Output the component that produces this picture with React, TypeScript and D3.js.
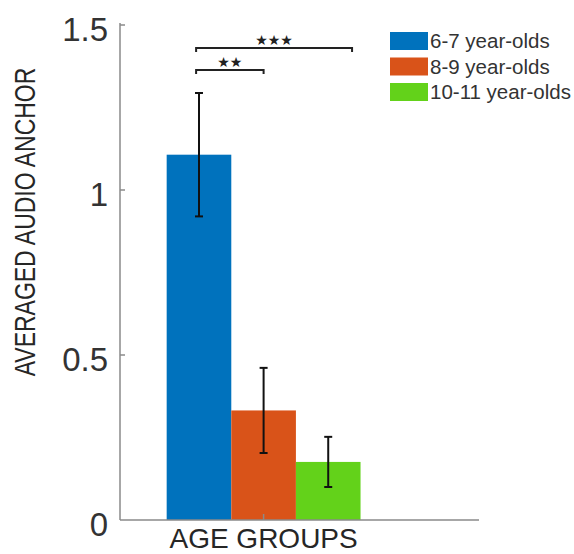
import React, { useEffect, useRef } from "react";
import * as d3 from "d3";

const groups = ["6-7 year-olds", "8-9 year-olds", "10-11 year-olds"];
const means = [1.107, 0.332, 0.176];
const errors = [0.187, 0.129, 0.076];
const colors = ["#0072BD", "#D95319", "#63D21A"];
const yTicks = [0, 0.5, 1, 1.5];
const yTickLabels = ["0", "0.5", "1", "1.5"];
// significance brackets: [from, to] in x-axis units, height in y units
const brackets = [
  { x1: 0.765, x2: 1.0, y: 1.364, label: "★★" },
  { x1: 0.765, x2: 1.308, y: 1.43, label: "★★★" },
];

function App() {
  const ref = useRef<SVGSVGElement>(null);

  useEffect(() => {
    const svg = d3.select(ref.current);
    svg.selectAll("*").remove();

    const x = d3.scaleLinear().domain([0.5, 1.75]).range([120, 479]);
    const y = d3.scaleLinear().domain([0, 1.5]).range([520, 25]);
    const groupWidth = 0.675;
    const xb = d3
      .scaleBand()
      .domain(groups)
      .range([x(1 - groupWidth / 2), x(1 + groupWidth / 2)]);

    const axisColor = "#8a8a8a";
    const textColor = "#262626";

    // bars
    svg
      .append("g")
      .selectAll("rect")
      .data(groups)
      .enter()
      .append("rect")
      .attr("x", (d) => xb(d)!)
      .attr("y", (d, i) => y(means[i]))
      .attr("width", xb.bandwidth())
      .attr("height", (d, i) => y(0) - y(means[i]))
      .attr("fill", (d, i) => colors[i]);

    // axes
    svg
      .append("line")
      .attr("x1", x(0.5))
      .attr("x2", x(0.5))
      .attr("y1", y(1.5) - 2)
      .attr("y2", y(0))
      .attr("stroke", axisColor)
      .attr("stroke-width", 1.5);
    svg
      .append("line")
      .attr("x1", x(0.5))
      .attr("x2", x(1.75))
      .attr("y1", y(0))
      .attr("y2", y(0))
      .attr("stroke", axisColor)
      .attr("stroke-width", 1.5);

    svg
      .append("g")
      .selectAll("line")
      .data(yTicks.filter((t) => t > 0))
      .enter()
      .append("line")
      .attr("x1", x(0.5))
      .attr("x2", x(0.5) + 5)
      .attr("y1", (d) => y(d))
      .attr("y2", (d) => y(d))
      .attr("stroke", axisColor)
      .attr("stroke-width", 1.5);
    svg
      .append("line")
      .attr("x1", x(1))
      .attr("x2", x(1))
      .attr("y1", y(0))
      .attr("y2", y(0) - 6)
      .attr("stroke", axisColor)
      .attr("stroke-width", 1.5);

    svg
      .append("g")
      .selectAll("text")
      .data(yTicks)
      .enter()
      .append("text")
      .attr("x", 108)
      .attr("y", (d) => y(d) + 16)
      .attr("text-anchor", "end")
      .attr("font-family", "Liberation Sans, Arial, sans-serif")
      .attr("font-size", 33)
      .attr("fill", "#333")
      .text((d, i) => yTickLabels[i]);

    // error bars
    const eb = svg.append("g").attr("stroke", "#111").attr("stroke-width", 2);
    groups.forEach((g, i) => {
      const cx = xb(g)! + xb.bandwidth() / 2;
      const top = y(means[i] + errors[i]);
      const bot = y(means[i] - errors[i]);
      eb.append("line").attr("x1", cx).attr("x2", cx).attr("y1", top).attr("y2", bot);
      eb.append("line").attr("x1", cx - 4).attr("x2", cx + 4).attr("y1", top).attr("y2", top);
      eb.append("line").attr("x1", cx - 4).attr("x2", cx + 4).attr("y1", bot).attr("y2", bot);
    });

    // significance brackets
    brackets.forEach((b) => {
      const x1 = x(b.x1);
      const x2 = x(b.x2);
      const yy = y(b.y);
      svg
        .append("path")
        .attr("d", `M${x1},${yy + 4}V${yy}H${x2}V${yy + 4}`)
        .attr("fill", "none")
        .attr("stroke", "#222")
        .attr("stroke-width", 2);
      svg
        .append("text")
        .attr("x", (x1 + x2) / 2)
        .attr("y", yy - 3)
        .attr("text-anchor", "middle")
        .attr("font-family", "DejaVu Sans, sans-serif")
        .attr("font-size", 14)
        .attr("fill", "#222")
        .text(b.label);
    });

    // axis titles
    svg
      .append("text")
      .attr("x", x(1))
      .attr("y", 548)
      .attr("text-anchor", "middle")
      .attr("font-family", "Liberation Sans, Arial, sans-serif")
      .attr("font-size", 28)
      .attr("fill", textColor)
      .text("AGE GROUPS");

    svg
      .append("text")
      .attr("transform", "translate(35,222) scale(1.25,1) rotate(-90)")
      .attr("text-anchor", "middle")
      .attr("font-family", "Liberation Sans, Arial, sans-serif")
      .attr("font-size", 23)
      .attr("fill", textColor)
      .text("AVERAGED AUDIO ANCHOR");

    // legend
    const legend = svg
      .append("g")
      .selectAll("g")
      .data(groups)
      .enter()
      .append("g")
      .attr("transform", (d, i) => `translate(390,${32 + i * 25.5})`);
    legend
      .append("rect")
      .attr("width", 38)
      .attr("height", 18)
      .attr("fill", (d, i) => colors[i]);
    legend
      .append("text")
      .attr("x", 40)
      .attr("y", 16)
      .attr("font-family", "Liberation Sans, Arial, sans-serif")
      .attr("font-size", 20.5)
      .attr("fill", "#333")
      .text((d) => d);
  }, []);

  return (
    <svg
      ref={ref}
      width={574}
      height={554}
      style={{ position: "absolute", left: 0, top: 0, background: "#fff" }}
    />
  );
}

export default App;
